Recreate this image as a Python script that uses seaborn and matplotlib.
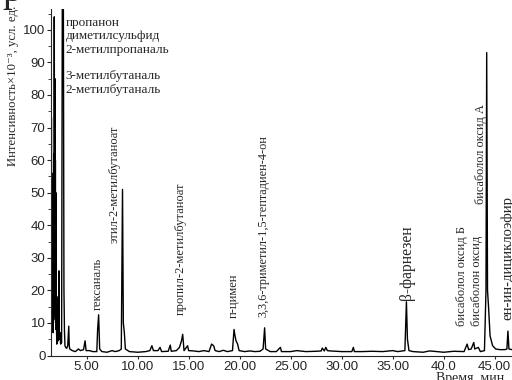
import matplotlib
matplotlib.use("Agg")
import matplotlib.pyplot as plt
import seaborn as sns
import pandas as pd
from matplotlib.ticker import AutoMinorLocator

# ---- data ----
times = [1.51, 1.52, 1.53, 1.54, 1.55, 1.57, 1.58, 1.60, 1.62, 1.63, 1.65, 1.67, 1.69, 1.70, 1.72, 1.75,
         1.77, 1.79, 1.81, 1.83, 1.86, 1.89, 1.92, 1.94, 1.96, 1.98, 2.00,
         2.04, 2.08, 2.12, 2.16, 2.22, 2.29, 2.33, 2.40, 2.45, 2.55, 2.62, 2.72, 2.78, 2.83, 2.88, 2.95,
         3.05, 3.15, 3.25, 3.30, 3.35, 3.6, 3.9, 4.2, 4.4, 4.7, 4.85, 4.95, 5.3, 5.6, 6.0, 6.08, 6.18,
         6.28, 6.5, 7.0, 7.5, 7.8, 8.2, 8.4, 8.52, 8.6, 8.7, 8.8, 9.2, 10.0, 10.8, 11.2, 11.4, 11.55,
         12.0, 12.2, 12.35, 13.0, 13.2, 13.3, 13.8, 14.1, 14.3, 14.42, 14.55, 14.9, 15.0, 15.5, 16.0,
         16.5, 17.0, 17.25, 17.45, 17.6, 18.0, 18.4, 18.8, 19.3, 19.45, 19.55, 19.65, 19.8, 19.95, 20.5,
         21.0, 21.5, 22.0, 22.3, 22.45, 22.55, 23.0, 23.6, 24.0, 24.1, 25.0, 25.6, 26.5, 27.5, 28.0,
         28.1, 28.3, 28.45, 28.6, 28.9, 29.5, 30.0, 31.0, 31.15, 31.25, 32.0, 33.0, 34.0, 35.0, 35.5, 36.2, 36.35,
         36.45, 36.6, 37.0, 38.0, 38.6, 39.0, 40.0, 41.0, 42.0, 42.3, 42.45, 42.7, 42.95, 43.05, 43.4,
         43.6, 44.0, 44.15, 44.22, 44.3, 44.4, 44.55, 44.8, 45.1, 45.5, 46.0, 46.2, 46.3, 46.4, 46.7]
intensity = [6, 30, 12, 60, 73, 10, 38, 56, 9, 35, 14, 50, 8, 30, 7, 45,
             11, 62, 12, 104, 40, 85, 14, 60, 10, 50, 8,
             10, 3.5, 18, 5, 4.5, 26, 5, 7, 3.5, 4, 112, 112, 20, 7.5, 3, 2.5,
             2.2, 3, 9, 3, 2, 1.5, 1.2, 2, 1.5, 1.8, 4.5, 1.5, 1.5, 1.2, 1.2, 8, 12.5,
             2, 1.2, 1.0, 1.5, 1.2, 1.5, 2, 51, 10, 7, 2, 1.2, 1.0, 1.2, 1.5, 3, 1.5,
             1.5, 2.5, 1.2, 1.3, 3.2, 1.3, 1.5, 2.5, 4.5, 6.5, 1.5, 3, 1.5, 1.4, 1.2,
             1.5, 1.2, 3.5, 3, 1.5, 1.2, 1.6, 1.2, 1.5, 8, 6, 4.5, 3.5, 1.5, 1.2,
             1.4, 1.2, 1.3, 2, 8.5, 2, 1.2, 1.2, 2.5, 1.2, 1.2, 1.5, 1.2, 1.3, 1.4,
             2.3, 1.4, 2.5, 1.5, 1.4, 1.3, 1.2, 1.2, 2.5, 1.2, 1.2, 1.3, 1.2, 1.5, 1.2, 1.5, 16.5,
             5, 1.5, 1.2, 1.0, 1.4, 1.3, 1.0, 1.3, 1.2, 3.5, 1.8, 2, 4, 2, 2.5,
             1.2, 1.5, 20, 93, 20, 15, 6, 3, 2, 1.8, 1.8, 2, 7.5, 2, 1.8]

x_ticks = [5, 10, 15, 20, 25, 30, 35, 40, 45]
x_tick_labels = ["5.00", "10.00", "15.00", "20.00", "25.00", "30.00", "35.00", "40.0", "45.00"]
y_ticks = [0, 10, 20, 30, 40, 50, 60, 70, 80, 90, 100]

top_block = "пропанон\nдиметилсульфид\n2-метилпропаналь\n\n3-метилбутаналь\n2-метилбутаналь"
label_names = ["гексаналь", "этил-2-метилбутаноат", "пропил-2-метилбутаноат", "п-цимен",
               "3,3,6-триметил-1,5-гептадиен-4-он", "β-фарнезен", "бисаболол оксид Б",
               "бисаболон оксид", "бисаболол оксид А", "ен-ин-дициклоэфир"]
label_time = [6.11, 7.77, 14.23, 19.45, 22.35, 36.4, 41.82, 43.3, 43.62, 46.32]
label_base = [14.0, 34.6, 12.4, 11.5, 11.8, 17.0, 9.2, 9.2, 46.5, 10.9]
label_size = [9, 9, 9, 9, 8.8, 11.2, 9, 9, 8.8, 10.6]

df = pd.DataFrame({"t": times, "I": intensity})

sns.set_style("ticks")
SERIF = ["Liberation Serif", "DejaVu Serif"]
SANS = ["Liberation Sans", "DejaVu Sans"]

fig = plt.figure(figsize=(5.12, 3.8), dpi=100)
ax = fig.add_axes([51 / 512, 1 - 355.5 / 380, 1 - 51 / 512, (355.5 - 9) / 380])
sns.lineplot(data=df, x="t", y="I", ax=ax, color="black", linewidth=1.0,
             estimator=None, sort=False)

ax.set_xlim(1.51, 46.7)
ax.set_ylim(0, 106.4)
ax.set_xticks(x_ticks)
ax.set_xticklabels(x_tick_labels, fontfamily=SANS, fontsize=9.5)
ax.set_yticks(y_ticks)
ax.set_yticklabels([str(v) for v in y_ticks], fontfamily=SANS, fontsize=9.5)
ax.yaxis.set_minor_locator(AutoMinorLocator(2))
ax.tick_params(axis="y", which="major", length=3, width=0.8, pad=1)
ax.tick_params(axis="y", which="minor", length=2, width=0.6)
ax.tick_params(axis="x", which="major", length=2, width=0.8, pad=2)
for s in ["top", "right"]:
    ax.spines[s].set_visible(False)
for s in ["left", "bottom"]:
    ax.spines[s].set_linewidth(0.8)
ax.set_xlabel("")
ax.set_ylabel("")

fig.text(2 / 512, 1 - 1 / 380, "р", ha="left", va="baseline", fontfamily=SERIF, fontsize=28)
fig.text(13 / 512, 1 - 86 / 380, "Интенсивность×10⁻³, усл. ед.", rotation=90,
         ha="center", va="center", fontfamily=SERIF, fontsize=9.2)
fig.text(470 / 512, 1 - 372 / 380, "Время, мин", ha="center", va="top",
         fontfamily=SERIF, fontsize=10)

ax.text(2.95, 104.0, top_block, ha="left", va="top", fontfamily=SERIF, fontsize=9.5,
        linespacing=1.15)
for name, t, b, fs in zip(label_names, label_time, label_base, label_size):
    ax.text(t, b, name, rotation=90, ha="center", va="bottom", fontfamily=SERIF,
            fontsize=fs, clip_on=False)

fig.savefig("out.png", dpi=100)
